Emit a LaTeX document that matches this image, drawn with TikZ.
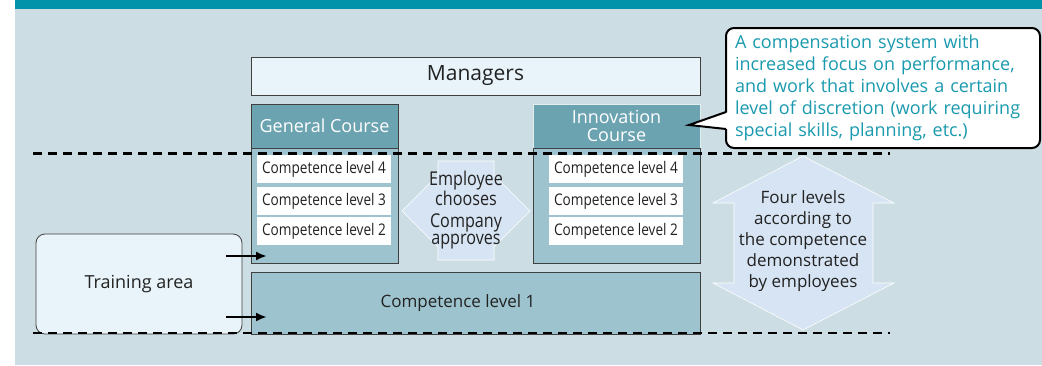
\documentclass[tikz,border=0pt]{standalone}
\usepackage{fontspec}
\setmainfont{Open Sans}
\newfontfamily\condfont[FakeStretch=0.85]{Open Sans}
\usetikzlibrary{positioning,arrows.meta}
\definecolor{bgblue}{HTML}{CCDDE3}
\definecolor{bandteal}{HTML}{0093AA}
\definecolor{headteal}{HTML}{6BA3B0}
\definecolor{bodyteal}{HTML}{9DC4CE}
\definecolor{paleblue}{HTML}{E8F4FA}
\definecolor{arrowblue}{HTML}{D6E4F3}
\definecolor{calltext}{HTML}{1A9AAE}
\definecolor{inktext}{HTML}{222222}

\begin{document}
\begin{tikzpicture}
            [x=1pt,y=-1pt,
             box/.style={draw=black!75,line width=0.8pt,inner sep=0pt,text=inktext},
             headbox/.style={box,fill=headteal,text=white,align=center,font=\fontsize{18}{18}\selectfont},
             bodybox/.style={box,fill=bodyteal},
             levelbox/.style={fill=white,inner sep=0pt,minimum width=134pt,minimum height=28pt,text=inktext,font=\condfont\fontsize{16}{16}\selectfont},
             bigarrow/.style={fill=arrowblue,draw=white,line width=0.6pt},
             arrowtext/.style={align=center,text=inktext,inner sep=0pt},
             feed/.style={line width=2.2pt,-{Latex[length=11pt,width=9pt]}},
             cut/.style={line width=2.6pt,dash pattern=on 9pt off 6pt}]
            \useasboundingbox (0,0) rectangle (1042,365);
            % background and title band
            \fill[bgblue] (15,0) rectangle (1042,365);
            \fill[bandteal] (15,0) rectangle (1042,9);
            % managers
            \node[box,fill=paleblue,minimum width=449pt,minimum height=38pt,font=\fontsize{21}{21}\selectfont] (managers) at (475.5,76) {Managers};
            % general course
            \node[headbox,minimum width=147pt,minimum height=44pt] (genhead) at (324.5,126) {General Course};
            \node[bodybox,minimum width=147pt,minimum height=115pt] (genbody) at (324.5,205.5) {};
            \node[levelbox] (gen4) at (324,169) {Competence level 4};
            \node[levelbox] (gen3) at (324,201) {Competence level 3};
            \node[levelbox] (gen2) at (324,231) {Competence level 2};
            % innovation course
            \node[headbox,draw=white!80!headteal,minimum width=167pt,minimum height=44pt] (innohead) at (616.5,126) {Innovation\\Course};
            \node[bodybox,minimum width=167pt,minimum height=115pt] (innobody) at (616.5,205.5) {};
            \node[levelbox] (inno4) at (616,169) {Competence level 4};
            \node[levelbox] (inno3) at (616,201) {Competence level 3};
            \node[levelbox] (inno2) at (616,231) {Competence level 2};
            % level 1 and training
            \node[bodybox,minimum width=449pt,minimum height=62pt] (level1) at (475.5,303) {};
            \node[text=inktext,font=\fontsize{17}{17}\selectfont] (level1text) at (458,303) {Competence level 1};
            \node[box,fill=paleblue,rounded corners=9pt,minimum width=206pt,minimum height=100pt,font=\fontsize{18}{18}\selectfont] (training) at (139,284) {Training area};
            \coordinate (tra) at (226,256);
            \coordinate (trb) at (267,256);
            \coordinate (trc) at (226,317);
            \coordinate (trd) at (267,317);
            \draw[feed] (tra) -- (trb);
            \draw[feed] (trc) -- (trd);
            % choice arrow
            \filldraw[bigarrow] (438,161) -- (494,161) -- (494,175) -- (530,211) -- (494,247) -- (494,260)
                -- (438,260) -- (438,247) -- (402,211) -- (438,175) -- cycle;
            \node[arrowtext,font=\condfont\fontsize{19}{17}\selectfont] (choice) at (466,210) {Employee\\chooses\\[5pt]Company\\approves};
            % levels arrow
            \filldraw[bigarrow] (803,156) -- (894,203) -- (873,203) -- (873,283) -- (894,283) -- (803,330)
                -- (713,283) -- (734,283) -- (734,203) -- (713,203) -- cycle;
            \node[arrowtext,font=\fontsize{17}{21}\selectfont] (fourlevels) at (803,241) {Four levels\\according to\\the competence\\demonstrated\\by employees};
            % dashed limits
            \draw[cut] (33,153.5) -- (890,153.5);
            \draw[cut] (33,333) -- (890,333);
            % callout
            \node[draw=black,line width=2pt,fill=white,rounded corners=8pt,minimum width=314pt,minimum height=120pt,
                  text width=296pt,align=left,text=calltext,font=\fontsize{18}{22}\selectfont] (callout) at (883,88)
                  {A compensation system with\\increased focus on performance,\\and work that involves a certain\\level of discretion (work requiring\\special skills, planning, etc.)};
            \coordinate (tip) at (689,125);
            \fill[white] (728.5,112) -- (tip) -- (728.5,129) -- cycle;
            \draw[line width=2pt,line join=miter] (726,112) -- (tip) -- (726,129);
        \end{tikzpicture}
\end{document}
